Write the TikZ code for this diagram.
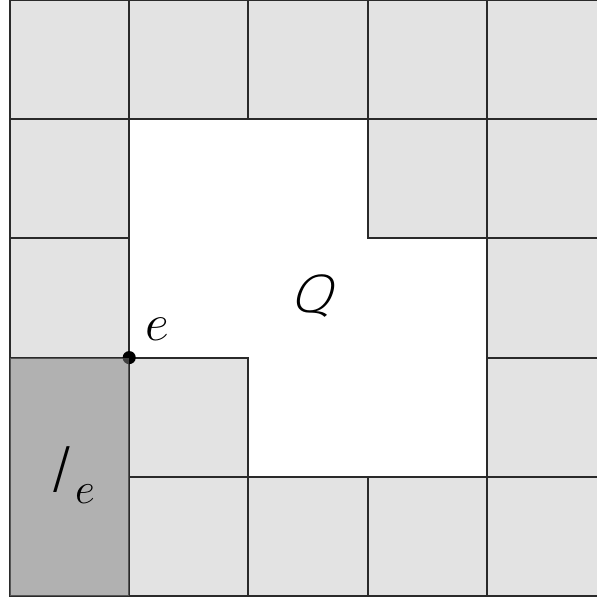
\documentclass[tikz,border=0pt]{standalone}
\usepackage{fontspec}
\IfFontExistsTF{Fira Sans ExtraLight Italic}
  {\newfontfamily\thinsans{Fira Sans ExtraLight Italic}[FakeSlant=0.15]}
  {\IfFontExistsTF{Fira Sans Light Italic}
    {\newfontfamily\thinsans{Fira Sans Light Italic}[FakeSlant=0.15]}
    {\IfFontExistsTF{Lato Light Italic}
      {\newfontfamily\thinsans{Lato Light Italic}[FakeSlant=0.15]}
      {\newcommand\thinsans{\sffamily\slshape}}}}
\definecolor{cellgray}{HTML}{E3E3E3}
\definecolor{gridline}{HTML}{2A2A2A}
\begin{document}
\begin{tikzpicture}[x=2cm,y=2cm,
  cellbox/.style={fill=cellgray,draw=gridline,line width=0.9pt},
  overlay box/.style={fill=gray,fill opacity=0.5,draw=none},
  lbl/.style={inner sep=0pt,font=\fontsize{26}{30}\selectfont}]
\useasboundingbox (-0.084,-0.042) rectangle (4.924,5.0);
% light gray cells (column, row from bottom)
\foreach \c/\r in {0/4,1/4,2/4,3/4,4/4,
                   0/3,3/3,4/3,
                   0/2,4/2,
                   1/1,4/1,
                   1/0,2/0,3/0,4/0}
  \draw[cellbox] (\c,\r) rectangle ++(1,1);
% merged cell at the bottom left
\draw[cellbox] (0,0) rectangle (1,2);
% the point e
\fill[black] (1,2) circle (0.055);
\coordinate (edot) at (1,2);
% darker overlay I_e
\fill[overlay box] (0,0) rectangle (1,2);
% labels
\node[lbl] (Q) at (2.53,2.52) {\scalebox{1.15}[1]{\thinsans Q}};
\node[lbl,font=\fontsize{28}{32}\selectfont] (e) at (1.24,2.24) {$e$};
\node[lbl,anchor=base west,font=\fontsize{32}{36}\selectfont] (Ie) at (0.32,0.872)
  {\thinsans I\kern0.12em\raisebox{-0.17em}{\fontsize{22}{26}\selectfont$e$}};
\end{tikzpicture}
\end{document}
